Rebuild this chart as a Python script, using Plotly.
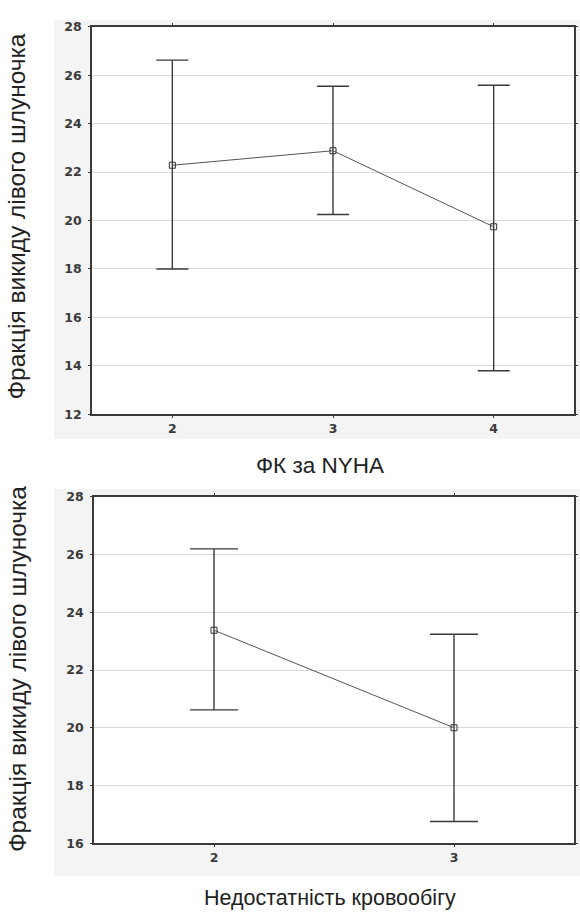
import plotly.graph_objects as go

# Top panel: ФК за NYHA
nyha_classes = [2, 3, 4]
nyha_mean = [22.28, 22.88, 19.74]
nyha_upper = [26.62, 25.54, 25.58]
nyha_lower = [18.0, 20.25, 13.8]

# Bottom panel: Недостатність кровообігу
hf_classes = [2, 3]
hf_mean = [23.38, 20.0]
hf_upper = [26.2, 23.24]
hf_lower = [20.62, 16.75]

top_yticks = [12, 14, 16, 18, 20, 22, 24, 26, 28]
bot_yticks = [16, 18, 20, 22, 24, 26, 28]

y_title = "Фракція викиду лівого шлуночка"
top_x_title = "ФК за NYHA"
bot_x_title = "Недостатність кровообігу"

W, H = 580, 922
line_col = "#3a3a3a"

fig = go.Figure()

def add_panel(xs, mean, up, lo, xa, ya, capw):
    fig.add_trace(go.Scatter(
        x=xs, y=mean, mode="lines+markers", xaxis=xa, yaxis=ya,
        line=dict(color="#555555", width=1),
        marker=dict(symbol="square-open", size=6, color="#303030", line=dict(width=1)),
        error_y=dict(type="data", symmetric=False,
                     array=[u - m for u, m in zip(up, mean)],
                     arrayminus=[m - l for m, l in zip(mean, lo)],
                     color=line_col, thickness=1.4, width=capw),
        showlegend=False, hoverinfo="skip"))

add_panel(nyha_classes, nyha_mean, nyha_upper, nyha_lower, "x", "y", 16)
add_panel(hf_classes, hf_mean, hf_upper, hf_lower, "x2", "y2", 24)

axis_common = dict(showline=True, linecolor=line_col, linewidth=1.8, mirror="ticks",
                   ticks="outside", ticklen=2, tickcolor=line_col,
                   tickfont=dict(family="DejaVu Sans", size=12.5, color="#3a3a3a", weight="bold"),
                   zeroline=False, fixedrange=True)

def px_y(p):
    return 1 - p / H

top_box = (92, 574, 19, 413)
bot_box = (94, 574, 497, 849)

fig.update_layout(
    width=W, height=H, autosize=False,
    margin=dict(l=0, r=0, t=0, b=0),
    paper_bgcolor="white", plot_bgcolor="white",
    xaxis=dict(domain=[top_box[0] / W, top_box[1] / W], range=[1.5, 4.5], tickvals=nyha_classes,
               showgrid=False, anchor="y", **axis_common),
    yaxis=dict(domain=[px_y(top_box[3]), px_y(top_box[2])], range=[12, 28], tickvals=top_yticks,
               showgrid=True, gridcolor="#dadada", gridwidth=1, anchor="x",
               ticklabelstandoff=4, **axis_common),
    xaxis2=dict(domain=[bot_box[0] / W, bot_box[1] / W], range=[1.5, 3.5], tickvals=hf_classes,
                showgrid=False, anchor="y2", **axis_common),
    yaxis2=dict(domain=[px_y(bot_box[3]), px_y(bot_box[2])], range=[16, 28], tickvals=bot_yticks,
                showgrid=True, gridcolor="#dadada", gridwidth=1, anchor="x2",
                ticklabelstandoff=4, **axis_common),
    shapes=[
        dict(type="rect", xref="paper", yref="paper", x0=54 / W, x1=1, y0=px_y(438), y1=px_y(12),
             fillcolor="#f4f4f4", line=dict(width=0), layer="below"),
        dict(type="rect", xref="paper", yref="paper", x0=54 / W, x1=1, y0=px_y(882), y1=px_y(489),
             fillcolor="#f4f4f4", line=dict(width=0), layer="below"),
        dict(type="rect", xref="paper", yref="paper", x0=top_box[0] / W, x1=top_box[1] / W,
             y0=px_y(top_box[3]), y1=px_y(top_box[2]),
             fillcolor="white", line=dict(width=0), layer="below"),
        dict(type="rect", xref="paper", yref="paper", x0=bot_box[0] / W, x1=bot_box[1] / W,
             y0=px_y(bot_box[3]), y1=px_y(bot_box[2]),
             fillcolor="white", line=dict(width=0), layer="below"),
    ],
)

ytitle_font = dict(family="Liberation Sans, Arial", size=24.5, color="#222222")
fig.add_annotation(text=y_title, xref="paper", yref="paper", x=17 / W, y=px_y(212),
                   textangle=-90, showarrow=False, font=ytitle_font, xanchor="center", yanchor="middle")
fig.add_annotation(text=y_title, xref="paper", yref="paper", x=17 / W, y=px_y(672),
                   textangle=-90, showarrow=False, font=ytitle_font, xanchor="center", yanchor="middle")
fig.add_annotation(text=top_x_title, xref="paper", yref="paper", x=320 / W, y=px_y(465),
                   showarrow=False, font=dict(family="Liberation Sans, Arial", size=22.5, color="#222222"),
                   xanchor="center", yanchor="middle")
fig.add_annotation(text=bot_x_title, xref="paper", yref="paper", x=330 / W, y=px_y(905),
                   showarrow=False, font=dict(family="Liberation Sans, Arial", size=21.5, color="#222222"),
                   xanchor="center", yanchor="middle")

fig.write_html("out.html")
